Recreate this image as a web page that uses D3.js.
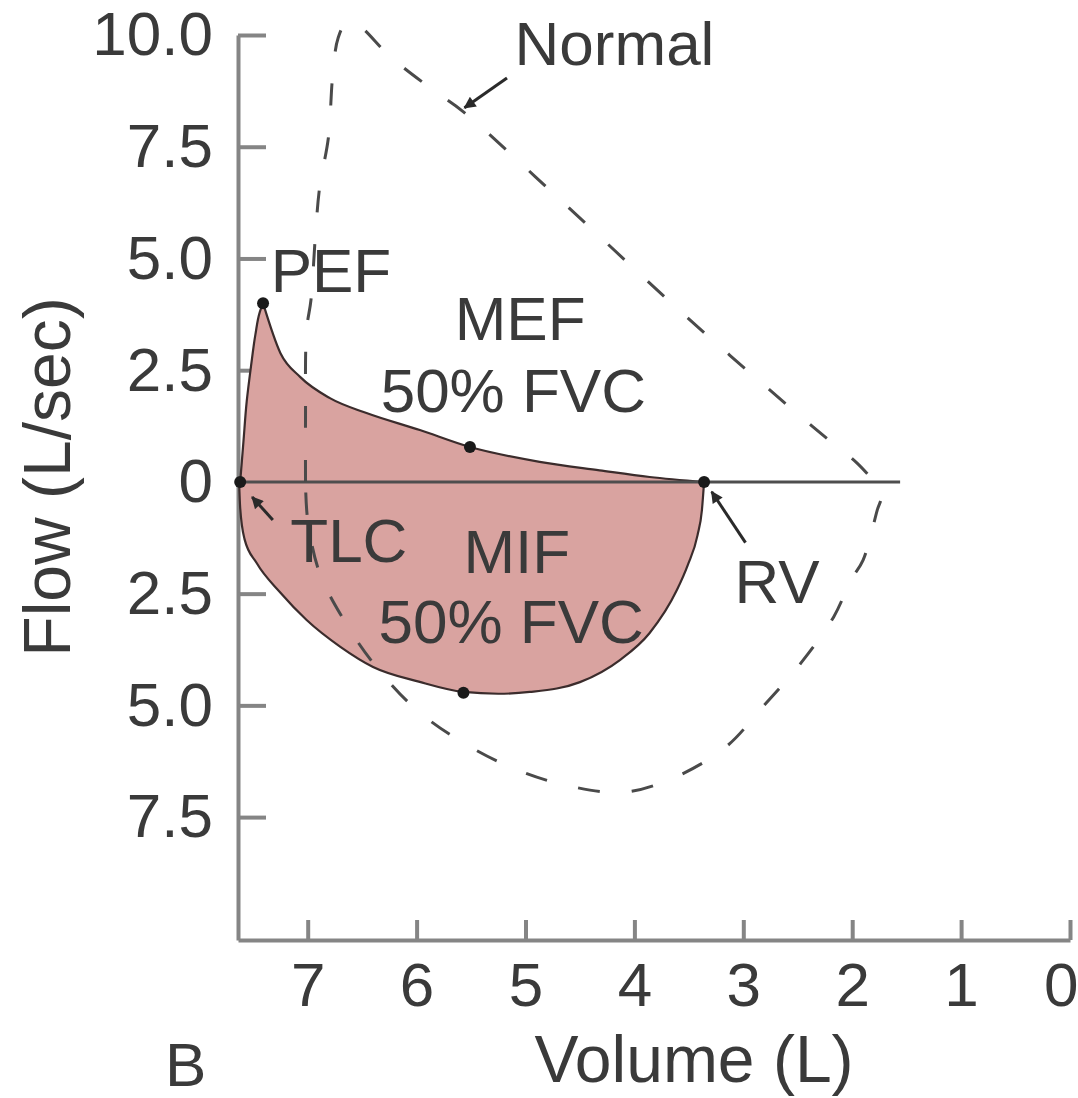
<!DOCTYPE html>
<html>
<head>
<meta charset="utf-8">
<script src="https://cdn.jsdelivr.net/npm/d3@7/dist/d3.min.js"></script>
<style>
  body { margin: 0; background: #fff; }
  svg { display: block; font-family: "Liberation Sans", Arial, sans-serif; }
  .axis path, .axis line { stroke: #858585; stroke-width: 4; }
  .axis text { font-size: 62px; fill: #3a3a3a; font-family: "Liberation Sans", Arial, sans-serif; }
  .lbl { font-size: 62px; fill: #3a3a3a; }
  .title { font-size: 66px; fill: #3a3a3a; }
</style>
</head>
<body>
<svg id="chart" width="1078" height="1098"></svg>
<script>
// Flow-volume loops: restrictive patient (shaded) vs normal (dashed)
// volume in L, flow in L/sec (negative = inspiration)

const volumeTicks = [7, 6, 5, 4, 3, 2, 1, 0];
const flowTicks = [10, 7.5, 5, 2.5, 0, -2.5, -5, -7.5];

// patient loop, expiration: TLC up to PEF
const patientRise = [[7.62, 0], [7.59, 0.9], [7.56, 1.8], [7.52, 2.6], [7.48, 3.3], [7.44, 3.8], [7.41, 4.0]];
// PEF down to RV
const patientFall = [[7.41, 4.0], [7.25, 2.88], [7.07, 2.35], [6.80, 1.88], [6.46, 1.54],
    [5.97, 1.16], [5.51, 0.78], [4.87, 0.45], [4.32, 0.26], [3.86, 0.11], [3.36, 0]];
// inspiration: RV back to TLC
const patientInsp = [[3.36, 0], [3.38, -0.63], [3.42, -1.19], [3.51, -1.86], [3.61, -2.42], [3.86, -3.38],
    [4.13, -3.98], [4.50, -4.48], [4.96, -4.70], [5.25, -4.74], [5.57, -4.70], [5.98, -4.47],
    [6.40, -4.14], [6.70, -3.69], [7.01, -3.09], [7.25, -2.48], [7.47, -1.81], [7.58, -1.28],
    [7.62, -0.58], [7.63, 0]];

// normal loop
const normalExp = [[7.02, 0], [7.02, 1.39], [7.01, 3.4], [6.97, 4.07], [6.93, 5.48], [6.89, 6.6],
    [6.81, 7.7], [6.77, 9.11], [6.72, 9.94], [6.64, 10.29], [6.54, 10.23], [6.24, 9.51],
    [5.85, 8.77], [5.57, 8.28], [4.68, 6.31], [3.52, 3.69], [2.36, 1.23], [1.96, 0.43], [1.81, 0.04]];
const normalInsp = [[1.81, 0.04], [1.73, -0.29], [1.77, -0.63], [1.90, -1.75], [2.01, -2.19], [2.17, -3.02],
    [2.47, -4.05], [2.82, -5.03], [3.16, -5.93], [3.62, -6.60], [4.08, -6.94], [4.57, -6.82],
    [5.08, -6.44], [5.57, -5.84], [6.00, -5.10], [6.37, -4.14], [6.64, -3.20], [6.89, -2.04],
    [7.00, -0.85], [7.02, 0]];

const zeroLine = [[7.64, 0], [1.56, 0]];

// marked points
const pointNames = ['TLC', 'PEF', 'MEF', 'MIF', 'RV'];
const pointVolume = [7.62, 7.41, 5.51, 5.57, 3.36];
const pointFlow = [0, 4.0, 0.78, -4.72, 0];

// text annotations (anchor at start of baseline, data units)
const labelText = ['Normal', 'PEF', 'MEF', '50% FVC', 'TLC', 'MIF', '50% FVC', 'RV'];
const labelVolume = [5.10, 7.34, 5.65, 6.33, 7.16, 5.57, 6.35, 3.08];
const labelFlow = [9.33, 4.25, 3.18, 1.57, -1.79, -2.04, -3.60, -2.71];

// arrows: tail -> tip
const arrowFrom = [[5.17, 9.04], [7.32, -0.85], [2.98, -1.36]];
const arrowTo = [[5.56, 8.37], [7.51, -0.34], [3.29, -0.22]];

const svg = d3.select('#chart');
svg.append('rect').attr('width', 1078).attr('height', 1098).attr('fill', '#fff');

const x = d3.scaleLinear().domain([7.64, 0]).range([238, 1070]);
const y = d3.scaleLinear().domain([10, -10.25]).range([35, 940]);

const defs = svg.append('defs');
defs.append('marker')
    .attr('id', 'arrowhead')
    .attr('viewBox', '0 0 10 10')
    .attr('refX', 9).attr('refY', 5)
    .attr('markerWidth', 5.5).attr('markerHeight', 4)
    .attr('markerUnits', 'strokeWidth')
    .attr('orient', 'auto')
    .append('path')
    .attr('d', 'M0,0 L10,5 L0,10 Z')
    .attr('fill', '#2a2a2a');

function lineWith(curve) {
    return d3.line()
        .x(d => x(d[0]))
        .y(d => y(d[1]))
        .curve(curve);
}
const smooth = lineWith(d3.curveCatmullRom.alpha(0.5));
const alongX = lineWith(d3.curveMonotoneX);
const alongY = lineWith(d3.curveMonotoneY);

// join segments into one path so the corners stay sharp
function joined(parts) {
    return parts.map(([gen, s], i) => {
        const p = gen(s);
        return i === 0 ? p : 'L' + p.slice(1);
    }).join('');
}

// axes
svg.append('g')
    .attr('class', 'axis')
    .attr('transform', 'translate(238,0)')
    .call(d3.axisLeft(y)
        .tickValues(flowTicks)
        .tickSizeInner(-28)
        .tickSizeOuter(0)
        .tickPadding(25)
        .tickFormat(d => d === 0 ? '0' : Math.abs(d).toFixed(1)));

const xAxis = svg.append('g')
    .attr('class', 'axis')
    .attr('transform', 'translate(0,940)')
    .call(d3.axisBottom(x)
        .tickValues(volumeTicks)
        .tickSizeInner(-20)
        .tickSizeOuter(0)
        .tickPadding(22)
        .tickFormat(d3.format('d')));

// last label sits at the page edge, keep it inside
xAxis.selectAll('.tick text')
    .filter(d => d === 0)
    .attr('text-anchor', 'end')
    .attr('dx', 8);

// patient loop fill
svg.append('path')
    .attr('d', joined([[alongY, patientRise], [alongX, patientFall], [alongX, patientInsp]]) + 'Z')
    .attr('fill', '#d9a3a0')
    .attr('stroke', '#3b2c2c')
    .attr('stroke-width', 2.2)
    .attr('stroke-linejoin', 'round');

// zero flow line
svg.append('path')
    .attr('d', d3.line().x(d => x(d[0])).y(d => y(d[1]))(zeroLine))
    .attr('stroke', '#4e4e4e')
    .attr('stroke-width', 3)
    .attr('fill', 'none');

// normal loop
svg.append('path')
    .attr('d', joined([[smooth, normalExp], [smooth, normalInsp]]))
    .attr('fill', 'none')
    .attr('stroke', '#4a4a4a')
    .attr('stroke-width', 3)
    .attr('stroke-dasharray', '22 32');

// labels
svg.selectAll('.lbl')
    .data(labelText)
    .enter()
    .append('text')
    .attr('class', 'lbl')
    .attr('x', (d, i) => x(labelVolume[i]))
    .attr('y', (d, i) => y(labelFlow[i]))
    .text(d => d);

// arrows
svg.selectAll('.arrow')
    .data(arrowFrom)
    .enter()
    .append('line')
    .attr('class', 'arrow')
    .attr('x1', d => x(d[0]))
    .attr('y1', d => y(d[1]))
    .attr('x2', (d, i) => x(arrowTo[i][0]))
    .attr('y2', (d, i) => y(arrowTo[i][1]))
    .attr('stroke', '#2a2a2a')
    .attr('stroke-width', 3)
    .attr('marker-end', 'url(#arrowhead)');

// marked points
svg.selectAll('.pt')
    .data(pointNames)
    .enter()
    .append('circle')
    .attr('class', 'pt')
    .attr('cx', (d, i) => x(pointVolume[i]))
    .attr('cy', (d, i) => y(pointFlow[i]))
    .attr('r', 6)
    .attr('fill', '#1a1a1a');

// axis titles
svg.append('text')
    .attr('class', 'title')
    .attr('transform', 'translate(70,477) rotate(-90)')
    .attr('text-anchor', 'middle')
    .text('Flow (L/sec)');

svg.append('text')
    .attr('class', 'title')
    .attr('x', 694)
    .attr('y', 1082)
    .attr('text-anchor', 'middle')
    .text('Volume (L)');

svg.append('text')
    .attr('class', 'lbl')
    .attr('x', 165)
    .attr('y', 1086)
    .text('B');
</script>
</body>
</html>
